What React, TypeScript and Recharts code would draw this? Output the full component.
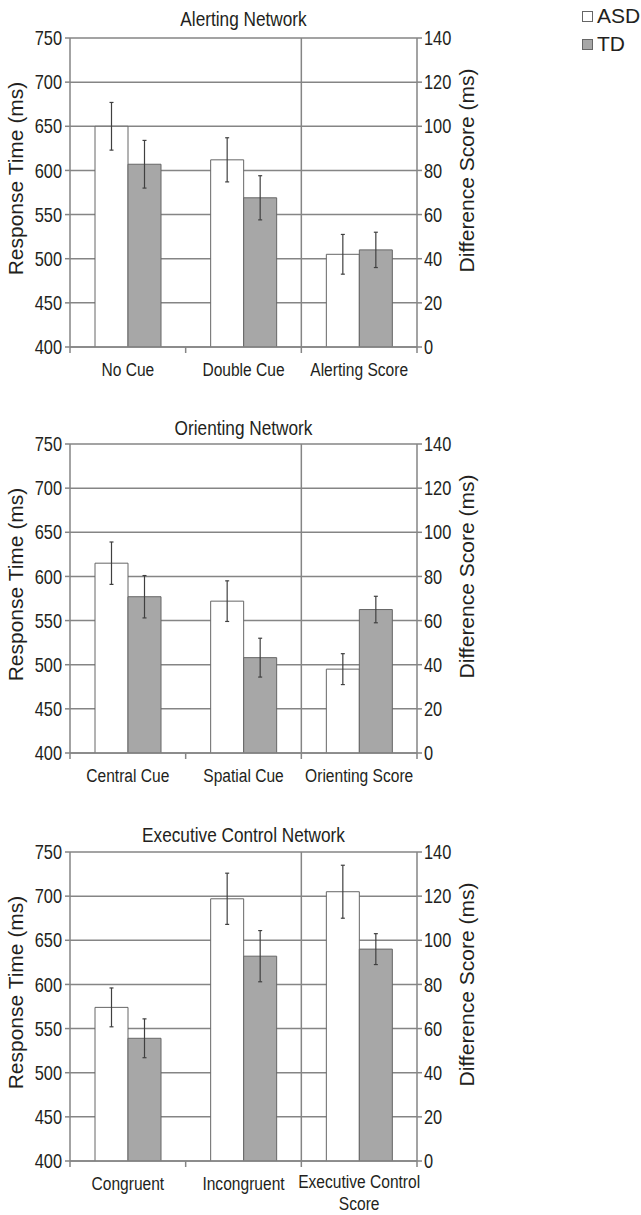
import React from "react";
import {
  BarChart,
  Bar,
  XAxis,
  YAxis,
  CartesianGrid,
  ErrorBar,
  Legend,
} from "recharts";

// ---- values ----
const alertingCategories = ["No Cue", "Double Cue", "Alerting Score"];
const alertingAsdRt = [650, 612];
const alertingAsdRtErr = [27, 25];
const alertingTdRt = [607, 569];
const alertingTdRtErr = [27, 25];
const alertingAsdScore = [42];
const alertingAsdScoreErr = [9];
const alertingTdScore = [44];
const alertingTdScoreErr = [8];

const orientingCategories = ["Central Cue", "Spatial Cue", "Orienting Score"];
const orientingAsdRt = [615, 572];
const orientingAsdRtErr = [24, 23];
const orientingTdRt = [577, 508];
const orientingTdRtErr = [24, 22];
const orientingAsdScore = [38];
const orientingAsdScoreErr = [7];
const orientingTdScore = [65];
const orientingTdScoreErr = [6];

const executiveCategories = ["Congruent", "Incongruent", "Executive Control Score"];
const executiveAsdRt = [574, 697];
const executiveAsdRtErr = [22, 29];
const executiveTdRt = [539, 632];
const executiveTdRtErr = [22, 29];
const executiveAsdScore = [122];
const executiveAsdScoreErr = [12];
const executiveTdScore = [96];
const executiveTdScoreErr = [7];

const rtTicks = [400, 450, 500, 550, 600, 650, 700, 750];
const diffTicks = [0, 20, 40, 60, 80, 100, 120, 140];
const seriesNames = ["ASD", "TD"];

// ---- styles ----
const FONT = "'Liberation Sans', Arial, sans-serif";
const SQUEEZE = 0.82; // the source figure's horizontal text is condensed
const TEXT = "#231f20";
const GRID = "#858585";
const BAR_STROKE = "#666666";
const ERR = "#404040";
const ASD_FILL = "#ffffff";
const TD_FILL = "#a7a7a7";

const CHART_W = 641;
const PLOT_LEFT = 70;
const PLOT_W = 347;
const LABEL_MAX_CHARS = 18;

type Row = Record<string, string | number | undefined>;

// rows for the two response-time categories go on the left axis,
// the difference score row goes on the right axis
function buildRows(
  cats: string[],
  asdRt: number[],
  asdRtErr: number[],
  tdRt: number[],
  tdRtErr: number[],
  asdScore: number[],
  asdScoreErr: number[],
  tdScore: number[],
  tdScoreErr: number[]
): Row[] {
  return cats.map((name, i) => {
    if (i < asdRt.length) {
      return { name, asdRt: asdRt[i], asdRtErr: asdRtErr[i], tdRt: tdRt[i], tdRtErr: tdRtErr[i] };
    }
    const j = i - asdRt.length;
    return {
      name,
      asdDiff: asdScore[j],
      asdDiffErr: asdScoreErr[j],
      tdDiff: tdScore[j],
      tdDiffErr: tdScoreErr[j],
    };
  });
}

const panels = [
  {
    title: "Alerting Network",
    top: 0,
    height: 397,
    titleTop: 7,
    legend: true,
    rows: buildRows(alertingCategories, alertingAsdRt, alertingAsdRtErr, alertingTdRt, alertingTdRtErr,
      alertingAsdScore, alertingAsdScoreErr, alertingTdScore, alertingTdScoreErr),
  },
  {
    title: "Orienting Network",
    top: 406,
    height: 397,
    titleTop: 10,
    legend: false,
    rows: buildRows(orientingCategories, orientingAsdRt, orientingAsdRtErr, orientingTdRt, orientingTdRtErr,
      orientingAsdScore, orientingAsdScoreErr, orientingTdScore, orientingTdScoreErr),
  },
  {
    title: "Executive Control Network",
    top: 814,
    height: 401,
    titleTop: 9,
    legend: false,
    rows: buildRows(executiveCategories, executiveAsdRt, executiveAsdRtErr, executiveTdRt, executiveTdRtErr,
      executiveAsdScore, executiveAsdScoreErr, executiveTdScore, executiveTdScoreErr),
  },
];

// simple greedy word wrap by character count
function wrapLabel(label: string, maxChars: number): string[] {
  const lines: string[] = [];
  let cur = "";
  label.split(" ").forEach((w) => {
    const next = cur ? cur + " " + w : w;
    if (next.length > maxChars && cur) {
      lines.push(cur);
      cur = w;
    } else {
      cur = next;
    }
  });
  if (cur) lines.push(cur);
  return lines;
}

const ValueTick = (props: any) => {
  const { x, y, payload, textAnchor } = props;
  return (
    <text
      transform={`translate(${x},${y}) scale(${SQUEEZE},1)`}
      textAnchor={textAnchor}
      dy="0.36em"
      fontSize={20}
      fontFamily={FONT}
      fill={TEXT}
    >
      {payload.value}
    </text>
  );
};

const CategoryTick = (props: any) => {
  const { x, y, payload, index, visibleTicksCount } = props;
  const count = visibleTicksCount || 3;
  const band = PLOT_W / count;
  const marks = [x - band / 2];
  if (index === count - 1) marks.push(x + band / 2);
  const lines = wrapLabel(String(payload.value), LABEL_MAX_CHARS);
  const firstDy = lines.length > 1 ? "0.6em" : "0.71em";
  return (
    <g>
      {marks.map((mx, i) => (
        <line key={i} x1={mx} x2={mx} y1={y - 16} y2={y - 10} stroke={GRID} strokeWidth={1.5} />
      ))}
      <text
        transform={`translate(${x},${y}) scale(${SQUEEZE},1)`}
        textAnchor="middle"
        fontSize={19}
        fontFamily={FONT}
        fill={TEXT}
      >
        {lines.map((ln, i) => (
          <tspan key={i} x={0} dy={i === 0 ? firstDy : "1.16em"}>
            {ln}
          </tspan>
        ))}
      </text>
    </g>
  );
};

const LegendBox = () => (
  <div style={{ fontFamily: FONT, fontSize: 21, color: TEXT }}>
    {seriesNames.map((name, i) => (
      <div key={name} style={{ display: "flex", alignItems: "center", height: 28 }}>
        <span
          style={{
            display: "inline-block",
            width: 9,
            height: 9,
            border: `1px solid ${BAR_STROKE}`,
            background: i === 0 ? ASD_FILL : TD_FILL,
            marginRight: 4,
          }}
        />
        <span>{name}</span>
      </div>
    ))}
  </div>
);

function Panel({ title, top, height, titleTop, legend, rows }: (typeof panels)[number]) {
  const legendW = 59;
  return (
    <div style={{ position: "absolute", left: 0, top, width: CHART_W, height }}>
      <div
        style={{
          position: "absolute",
          left: PLOT_LEFT,
          width: PLOT_W,
          top: titleTop,
          height: 24,
          lineHeight: "24px",
          textAlign: "center",
          fontFamily: FONT,
          fontSize: 21,
          color: TEXT,
          transform: `scaleX(${SQUEEZE})`,
        }}
      >
        {title}
      </div>
      <BarChart
        width={CHART_W}
        height={height}
        data={rows}
        barSize={33}
        barGap={0}
        margin={{ top: 38, bottom: 0, left: 0, right: legend ? 154 - legendW : 154 }}
      >
        <CartesianGrid
          yAxisId="left"
          stroke={GRID}
          strokeWidth={1.5}
          verticalCoordinatesGenerator={(args: any) => [args.offset.left + (args.offset.width * 2) / 3]}
        />
        <XAxis
          dataKey="name"
          interval={0}
          height={height - 347}
          axisLine={{ stroke: GRID, strokeWidth: 1.5 }}
          tickLine={false}
          tickSize={0}
          tickMargin={16}
          tick={<CategoryTick />}
        />
        <YAxis
          yAxisId="left"
          domain={[400, 750]}
          ticks={rtTicks}
          allowDataOverflow
          width={70}
          axisLine={{ stroke: GRID, strokeWidth: 1.5 }}
          tickLine={{ stroke: GRID, strokeWidth: 1.5 }}
          tickSize={5}
          tickMargin={3}
          tick={<ValueTick />}
          label={{
            value: "Response Time (ms)",
            angle: -90,
            position: "center",
            dx: -19,
            dy: -14,
            style: { fontSize: 21, fontFamily: FONT, fill: TEXT, textAnchor: "middle" },
          }}
        />
        <YAxis
          yAxisId="right"
          orientation="right"
          domain={[0, 140]}
          ticks={diffTicks}
          allowDataOverflow
          width={70}
          axisLine={{ stroke: GRID, strokeWidth: 1.5 }}
          tickLine={{ stroke: GRID, strokeWidth: 1.5 }}
          tickSize={5}
          tickMargin={2}
          tick={<ValueTick />}
          label={{
            value: "Difference Score (ms)",
            angle: -90,
            position: "center",
            dx: 15,
            dy: -22,
            style: { fontSize: 21, fontFamily: FONT, fill: TEXT, textAnchor: "middle" },
          }}
        />
        {legend && (
          <Legend
            layout="vertical"
            verticalAlign="top"
            align="right"
            wrapperStyle={{ left: 582, top: 2, width: legendW }}
            content={<LegendBox />}
          />
        )}
        <Bar yAxisId="left" dataKey="asdRt" stackId="asd" name="ASD" fill={ASD_FILL} stroke={BAR_STROKE} isAnimationActive={false}>
          <ErrorBar dataKey="asdRtErr" width={2} stroke={ERR} strokeWidth={1.2} />
        </Bar>
        <Bar yAxisId="left" dataKey="tdRt" stackId="td" name="TD" fill={TD_FILL} stroke={BAR_STROKE} isAnimationActive={false}>
          <ErrorBar dataKey="tdRtErr" width={2} stroke={ERR} strokeWidth={1.2} />
        </Bar>
        <Bar yAxisId="right" dataKey="asdDiff" stackId="asd" name="ASD score" legendType="none" fill={ASD_FILL} stroke={BAR_STROKE} isAnimationActive={false}>
          <ErrorBar dataKey="asdDiffErr" width={2} stroke={ERR} strokeWidth={1.2} />
        </Bar>
        <Bar yAxisId="right" dataKey="tdDiff" stackId="td" name="TD score" legendType="none" fill={TD_FILL} stroke={BAR_STROKE} isAnimationActive={false}>
          <ErrorBar dataKey="tdDiffErr" width={2} stroke={ERR} strokeWidth={1.2} />
        </Bar>
      </BarChart>
    </div>
  );
}

export default function App() {
  return (
    <div style={{ position: "absolute", left: 0, top: 0, width: 641, height: 1215, background: "#fff" }}>
      {panels.map((p) => (
        <Panel key={p.title} {...p} />
      ))}
    </div>
  );
}
